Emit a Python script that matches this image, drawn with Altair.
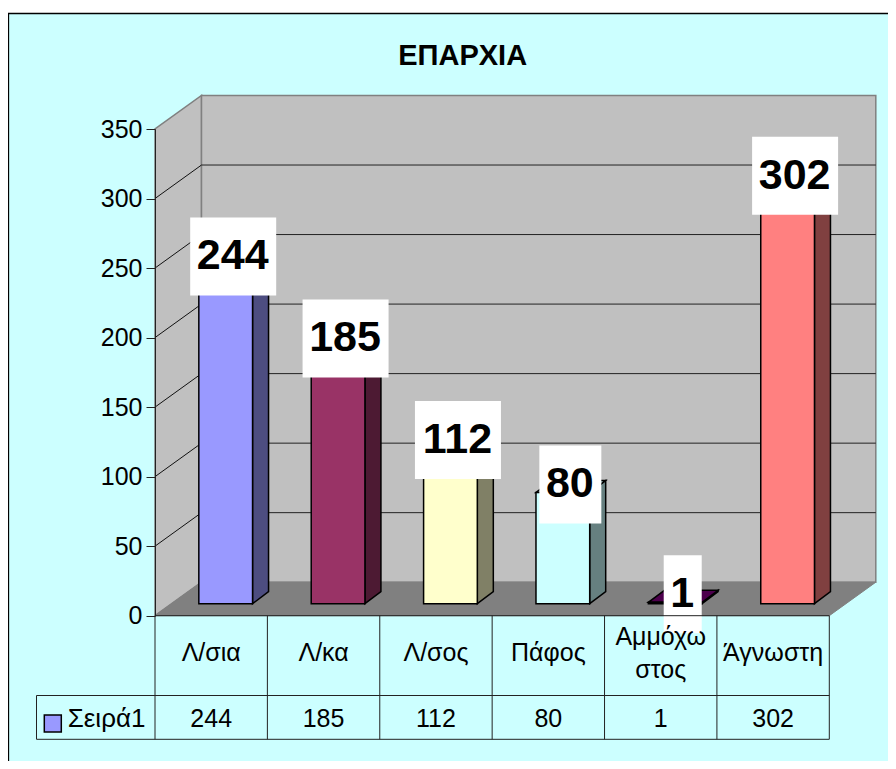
import altair as alt
import pandas as pd

categories = ["Λ/σια", "Λ/κα", "Λ/σος", "Πάφος", "Αμμόχω\nστος", "Άγνωστη"]
values = [244, 185, 112, 80, 1, 302]
front_colors = ["#9999FF", "#993366", "#FFFFCC", "#CCFFFF", "#660066", "#FF8080"]
side_colors = ["#4D4D80", "#4D1A33", "#808066", "#668080", "#330033", "#804040"]
top_colors = ["#7373BF", "#73264D", "#BFBF99", "#99BFBF", "#4D004D", "#BF6060"]
y_ticks = [0, 50, 100, 150, 200, 250, 300, 350]
grid_values = [50, 100, 150, 200, 250, 300]
title_text = "ΕΠΑΡΧΙΑ"
series_name = "Σειρά1"

FONT = "Liberation Sans"
PW, PH = 674.3, 486.7           # plot area = front face of the 3D box
UX, UY = PW / 6, PH / 350       # px per category, px per value unit
WALL_DX, WALL_DY = 46.5 / UX, 33.5 / UY
BAR_DX, BAR_DY = 16 / UX, 12 / UY
BAR_L, BAR_W = 0.39, 0.478
ROW1, ROW2 = -79.8 / UY, -123.6 / UY
LEFT_EDGE = -118.5 / UX

xs = alt.Scale(domain=[0, 6], nice=False, zero=False)
ys = alt.Scale(domain=[0, 350], nice=False, zero=False)
X = lambda f="x": alt.X(f"{f}:Q", scale=xs, axis=None, title=None)
X2 = lambda f="x2": alt.X2(f"{f}:Q")
Y = lambda f="y": alt.Y(f"{f}:Q", scale=ys, axis=None, title=None)
Y2 = lambda f="y2": alt.Y2(f"{f}:Q")


def segs(rows):
    return pd.DataFrame(rows, columns=["x", "x2", "y", "y2"])


one = pd.DataFrame({"a": [0]})
frame = alt.Chart(one).mark_rect(fill="#CCFFFF", stroke="#000000", strokeWidth=1.3).encode(
    x=alt.value(-146.5), x2=alt.value(1000), y=alt.value(-115.5), y2=alt.value(1000)
)

# walls and floor
left_wall = alt.Chart(pd.DataFrame({
    "x": [0, WALL_DX], "y": [0, WALL_DY], "y2": [350, 350 + WALL_DY]
})).mark_area(fill="#C0C0C0", stroke="#808080", strokeWidth=1.5).encode(x=X(), y=Y(), y2=Y2())

back_wall = alt.Chart(pd.DataFrame({
    "x": [WALL_DX], "x2": [6 + WALL_DX], "y": [WALL_DY], "y2": [350 + WALL_DY]
})).mark_rect(fill="#C0C0C0", stroke="#808080", strokeWidth=1.5).encode(x=X(), x2=X2(), y=Y(), y2=Y2())

floor = alt.Chart(pd.DataFrame({
    "y": [0, WALL_DY], "x": [0, WALL_DX], "x2": [6, 6 + WALL_DX]
})).mark_area(orient="horizontal", fill="#808080", stroke="#808080", strokeWidth=1).encode(
    y=Y(), x=X(), x2=X2()
)

grid_back = alt.Chart(segs([[WALL_DX, 6 + WALL_DX, v + WALL_DY, v + WALL_DY] for v in grid_values])).mark_rule(
    color="#222222", strokeWidth=1
).encode(x=X(), x2=X2(), y=Y(), y2=Y2())
grid_side = alt.Chart(segs([[0, WALL_DX, v, v + WALL_DY] for v in grid_values])).mark_rule(
    color="#111111", strokeWidth=1
).encode(x=X(), x2=X2(), y=Y(), y2=Y2())

# bars: front, side and top faces
fronts, sides, tops, boxes, labels = [], [], [], [], []
for i, (c, v) in enumerate(zip(categories, values)):
    l, r = i + BAR_L, i + BAR_L + BAR_W
    b, t = BAR_DY, BAR_DY + v
    fronts.append({"x": l, "x2": r, "y": b, "y2": t, "fill": front_colors[i]})
    sides += [
        {"k": i, "x": r, "y": b, "y2": t, "fill": side_colors[i]},
        {"k": i, "x": r + BAR_DX, "y": b + BAR_DY, "y2": t + BAR_DY, "fill": side_colors[i]},
    ]
    tops += [
        {"k": i, "y": t, "x": l, "x2": r, "fill": top_colors[i]},
        {"k": i, "y": t + BAR_DY, "x": l + BAR_DX, "x2": r + BAR_DX, "fill": top_colors[i]},
    ]
    cx = (l + r) / 2 + 7.5 / UX
    cy = t + 8 / UY
    half = (14 + 24 * len(str(v))) / 2 / UX
    boxes.append({"x": cx - half, "x2": cx + half, "y": cy - 39 / UY, "y2": cy + 39 / UY})
    labels.append({"x": cx - 0.5 / UX, "y": cy, "t": str(v)})

NF = alt.Fill("fill:N", scale=None, legend=None)
side_layer = alt.Chart(pd.DataFrame(sides)).mark_area(stroke="#000000", strokeWidth=1.5).encode(
    x=X(), y=Y(), y2=Y2(), fill=NF, detail="k:N"
)
top_layer = alt.Chart(pd.DataFrame(tops)).mark_area(orient="horizontal", stroke="#000000", strokeWidth=1.5).encode(
    y=Y(), x=X(), x2=X2(), fill=NF, detail="k:N"
)
front_layer = alt.Chart(pd.DataFrame(fronts)).mark_rect(stroke="#000000", strokeWidth=1.5).encode(
    x=X(), x2=X2(), y=Y(), y2=Y2(), fill=NF
)
box_layer = alt.Chart(pd.DataFrame(boxes)).mark_rect(fill="#FFFFFF").encode(x=X(), x2=X2(), y=Y(), y2=Y2())

# data table
table_rows = [[i, i, 0, ROW2] for i in range(7)]
table_rows += [[0, 6, 0, 0], [LEFT_EDGE, 6, ROW1, ROW1], [LEFT_EDGE, 6, ROW2, ROW2], [LEFT_EDGE, LEFT_EDGE, ROW1, ROW2]]
table_lines = alt.Chart(segs(table_rows)).mark_rule(color="#222222", strokeWidth=1).encode(
    x=X(), x2=X2(), y=Y(), y2=Y2()
)

text_rows = []
for i, (c, v) in enumerate(zip(categories, values)):
    parts = c.split("\n")
    if len(parts) == 1:
        text_rows.append({"x": i + 0.5, "y": -37.5 / UY, "t": c})
    else:
        text_rows.append({"x": i + 0.5, "y": -21 / UY, "t": parts[0]})
        text_rows.append({"x": i + 0.5, "y": -54.5 / UY, "t": parts[1]})
    text_rows.append({"x": i + 0.5, "y": -102.8 / UY, "t": str(v)})
table_text = alt.Chart(pd.DataFrame(text_rows)).mark_text(
    font=FONT, fontSize=25, color="#000000", baseline="middle", align="center"
).encode(x=X(), y=Y(), text="t:N")

legend_text = alt.Chart(pd.DataFrame({"x": [-87.3 / UX], "y": [-103 / UY], "t": [series_name]})).mark_text(
    font=FONT, fontSize=26, color="#000000", baseline="middle", align="left"
).encode(x=X(), y=Y(), text="t:N")
legend_swatch = alt.Chart(pd.DataFrame({
    "x": [-110.7 / UX], "x2": [-93.7 / UX], "y": [-99.3 / UY], "y2": [-116.3 / UY]
})).mark_rect(fill=front_colors[0], stroke="#000000", strokeWidth=1.5).encode(x=X(), x2=X2(), y=Y(), y2=Y2())

label_text = alt.Chart(pd.DataFrame(labels)).mark_text(
    font=FONT, fontSize=43, fontWeight="bold", color="#000000", baseline="middle", align="center"
).encode(x=X(), y=Y(), text="t:N")

# real y axis carried by an invisible layer, raised above the marks with zindex
axis_layer = alt.Chart(pd.DataFrame({"x": [0], "y": [0]})).mark_point(opacity=0).encode(
    x=X(),
    y=alt.Y("y:Q", scale=ys, title=None, axis=alt.Axis(
        values=y_ticks, labelFont=FONT, labelFontSize=25, labelColor="#000000", labelPadding=4,
        tickSize=9, tickColor="#222222", domainColor="#222222", grid=False, labelFlush=False, zindex=1,
    )),
)

chart = alt.layer(
    frame, left_wall, back_wall, floor, grid_back, grid_side,
    side_layer, top_layer, front_layer, box_layer, table_lines, table_text,
    legend_swatch, legend_text, label_text, axis_layer,
).resolve_axis(y="independent").properties(
    width=PW, height=PH,
    title=alt.TitleParams(title_text, font=FONT, fontSize=29, fontWeight="bold", color="#000000",
                          anchor="middle", dx=-29.5, offset=-58),
    background="#FFFFFF",
    padding={"left": 147, "top": 121, "right": 58.7, "bottom": 145.3},
    autosize=alt.AutoSizeParams(type="none"),
).configure_view(stroke=None)

chart.save("out.html", embed_options={"renderer": "svg", "actions": False})
